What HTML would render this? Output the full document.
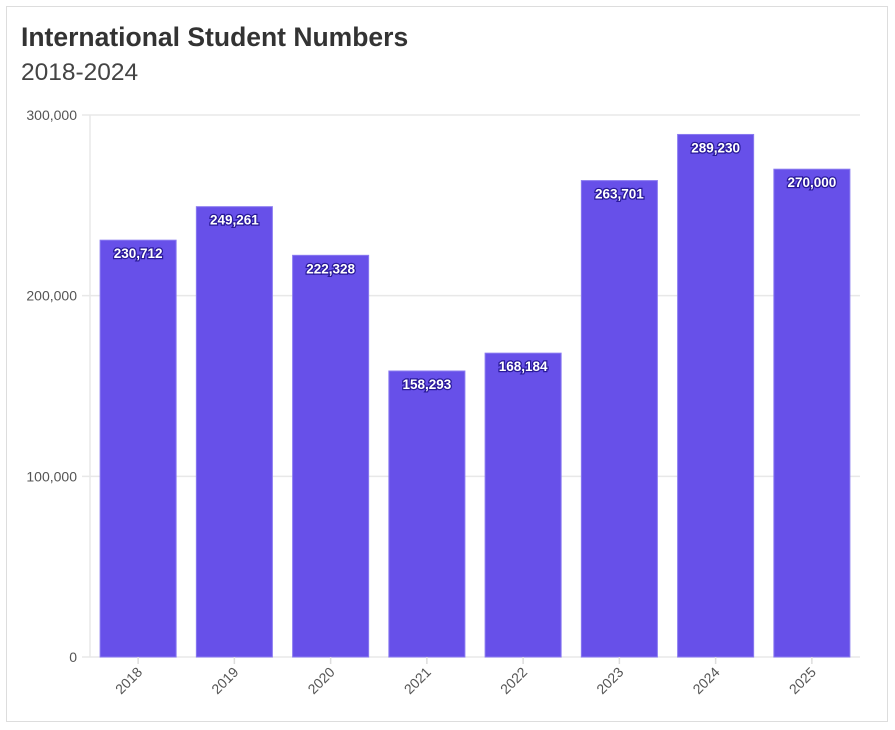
<!DOCTYPE html>
<html><head><meta charset="utf-8"><style>
body{margin:0;background:#fff;font-family:"Liberation Sans",sans-serif;}
#frame{position:absolute;left:6px;top:6px;width:882px;height:716px;border:1px solid #ddd;box-sizing:border-box;}
</style></head><body>
<div id="frame"></div>
<svg id="chart" width="895" height="730" style="position:absolute;left:0;top:0">
<text x="21" y="46" font-size="26.5" font-weight="bold" fill="#333">International Student Numbers</text>
<text x="21" y="80" font-size="24.5" fill="#444">2018-2024</text>
</svg>
<script>
const categories=["2018","2019","2020","2021","2022","2023","2024","2025"];
const values=[230712,249261,222328,158293,168184,263701,289230,270000];
const yTicks=[0,100000,200000,300000];
const svg=document.getElementById('chart');
const NS="http://www.w3.org/2000/svg";
const x0=90,x1=860,y0=657,y1=115,yMax=300000;
const band=(x1-x0)/categories.length;
function y(v){return y0-(v/yMax)*(y0-y1);}
function xc(i){return x0+band*(i+0.5);}
function mk(t,a){const e=document.createElementNS(NS,t);for(const k in a)e.setAttribute(k,a[k]);svg.appendChild(e);return e;}
const fmt=v=>v.toLocaleString('en-US');
yTicks.forEach(v=>{
 const g=mk('line',{x1:82,x2:x1,y1:y(v),y2:y(v),stroke:'#e8e8e8','stroke-width':1.5});
 
 
 const t=mk('text',{x:77,y:y(v)+5,'text-anchor':'end','font-size':14,fill:'#555'});
 t.textContent=fmt(v);
 
 
});
const ax=mk('line',{x1:x0,x2:x0,y1:y1,y2:y0,stroke:'#e8e8e8','stroke-width':1.5});


categories.forEach((c,i)=>{
 const bw=band*0.79,bx=xc(i)-bw/2,by=y(values[i]);
 const r=mk('rect',{x:bx,y:by,width:bw,height:y0-by,fill:'#6750e9',stroke:'#8a7af0','stroke-width':1});
 
 
 const lbl=mk('text',{x:xc(i),y:by+18,'text-anchor':'middle','font-size':13.5,'font-weight':'bold',fill:'#fff',stroke:'#2a1a9a','stroke-width':2.5,'paint-order':'stroke'});
 lbl.textContent=fmt(values[i]);
 
 
 const tk=mk('line',{x1:xc(i),x2:xc(i),y1:y0,y2:y0+7,stroke:'#ddd','stroke-width':1.5});
 
 
 const xl=mk('text',{x:xc(i)+5,y:y0+16,'text-anchor':'end','font-size':14,fill:'#555',transform:`rotate(-45 ${xc(i)+5} ${y0+16})`});
 xl.textContent=c;
 
 
});
</script>
</body></html>
